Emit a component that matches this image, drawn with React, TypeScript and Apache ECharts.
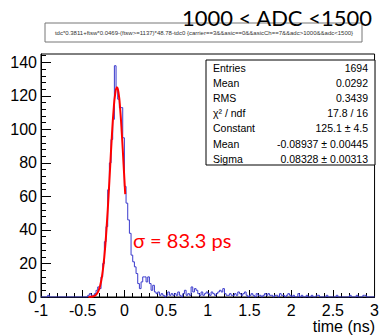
import React, { useEffect, useRef } from "react";
import * as echarts from "echarts";

// Histogram: 200 bins of width 0.02 from -1 to 3 (time in ns)
const binLow = -1;
const binWidth = 0.02;
const counts = [
  0, 0, 0, 0, 1, 0, 0, 0, 0, 0, 0, 0, 0, 0, 0, 0, 0, 0, 0, 0,
  0, 0, 0, 0, 0, 0, 0, 0, 1, 2, 1, 1, 2, 4, 6, 5, 12, 20, 33, 42,
  64, 80, 94, 106, 138, 125, 118, 113, 113, 95, 66, 56, 46, 38, 25, 21, 18, 14, 8, 5,
  9, 12, 12, 9, 12, 8, 4, 7, 3, 2, 3, 1, 2, 1, 0, 1, 3, 1, 2, 1,
  2, 1, 3, 1, 0, 2, 4, 1, 2, 1, 6, 3, 5, 4, 2, 1, 3, 1, 2, 3,
  2, 1, 3, 2, 1, 2, 3, 4, 3, 5, 2, 1, 1, 2, 1, 1, 2, 1, 3, 2,
  1, 2, 3, 1, 0, 1, 2, 1, 0, 2, 1, 1, 0, 1, 2, 1, 2, 1, 1, 0,
  1, 1, 0, 2, 1, 1, 0, 1, 2, 1, 0, 1, 0, 0, 2, 0, 1, 0, 0, 1,
  0, 0, 1, 0, 0, 1, 1, 0, 0, 0, 0, 1, 0, 0, 0, 0, 0, 1, 0, 0,
  0, 0, 0, 0, 0, 1, 0, 0, 0, 1, 0, 0, 0, 1, 1, 0, 0, 0, 0, 0,
];

// Gaussian fit curve
const fitX = [-0.43, -0.41, -0.39, -0.37, -0.35, -0.33, -0.31, -0.29, -0.27, -0.25, -0.23, -0.21,
  -0.19, -0.17, -0.15, -0.13, -0.11, -0.09, -0.07, -0.05, -0.03, -0.01, 0.01];
const fitY = [0.03, 0.08, 0.19, 0.43, 0.94, 1.93, 3.75, 6.9, 11.9, 19.5, 30.1, 43.9,
  60.3, 78.3, 96.1, 111.1, 121.3, 125.1, 121.8, 111.9, 97.0, 79.4, 61.4];

const yMajorTicks = [0, 20, 40, 60, 80, 100, 120, 140];
const yMinorTicks = [0, 4, 8, 12, 16, 20, 24, 28, 32, 36, 40, 44, 48, 52, 56, 60, 64, 68, 72, 76,
  80, 84, 88, 92, 96, 100, 104, 108, 112, 116, 120, 124, 128, 132, 136, 140, 144];

const statsLabels = ["Entries", "Mean", "RMS", "χ² / ndf", "Constant", "Mean", "Sigma"];
const statsValues = ["1694", "0.0292", "0.3439", "17.8 / 16", "125.1 ± 4.5", "-0.08937 ± 0.00445", "0.08328 ± 0.00313"];

const titleText = "1000 < ADC <1500";
const formulaText = "tdc*0.3811+ftsw*0.0469-(ftsw>=1137)*48.78-tdc0 {carrier==3&&asic==0&&asicCh==7&&adc>1000&&adc<1500}";
const sigmaText = "σ = 83.3 ps";
const xTitle = "time (ns)";

const ROOTFONT = "'Liberation Sans', Arial, sans-serif";

export default function App() {
  const ref = useRef<HTMLDivElement>(null);
  useEffect(() => {
    if (!ref.current) return;
    const chart = echarts.init(ref.current, null, { renderer: "svg" });

    const histData: number[][] = [];
    counts.forEach((c, i) => {
      const lo = binLow + i * binWidth;
      histData.push([lo, c]);
      histData.push([lo + binWidth, c]);
    });
    const fitData = fitX.map((x, i) => [x, fitY[i]]);

    const statsGraphics: any[] = [
      {
        type: "rect",
        shape: { x: 206, y: 60, width: 169, height: 105 },
        style: { fill: "#fff", stroke: "#000", lineWidth: 1 },
        z: 10,
      },
    ];
    statsLabels.forEach((l, i) => {
      const y = 68 + i * 15.1;
      statsGraphics.push({
        type: "text",
        x: 213,
        y,
        style: { text: l, fontSize: 10.5, fontFamily: ROOTFONT, fill: "#000", textAlign: "left", textVerticalAlign: "middle" },
        z: 11,
      });
      statsGraphics.push({
        type: "text",
        x: 368,
        y,
        style: { text: statsValues[i], fontSize: 10.5, fontFamily: ROOTFONT, fill: "#000", textAlign: "right", textVerticalAlign: "middle" },
        z: 11,
      });
    });

    const option: any = {
      animation: false,
      grid: { left: 41, right: 5, top: 54, bottom: 38, show: true, borderColor: "#000", borderWidth: 1, backgroundColor: "transparent" },
      xAxis: {
        type: "value",
        min: -1,
        max: 3,
        interval: 0.5,
        axisLine: { show: true, onZero: false, lineStyle: { color: "#000", width: 1 } },
        axisTick: { show: true, inside: true, length: 7, lineStyle: { color: "#000" } },
        minorTick: { show: true, splitNumber: 5, length: 4, lineStyle: { color: "#000" } },
        splitLine: { show: false },
        axisLabel: { fontSize: 16, color: "#000", fontFamily: ROOTFONT, margin: 5 },
      },
      yAxis: [
        {
          type: "value",
          min: 0,
          max: 145,
          interval: 20,
          axisLine: { show: true, onZero: false, lineStyle: { color: "#000", width: 1 } },
          axisTick: { show: true, inside: true, length: 10, customValues: yMajorTicks, lineStyle: { color: "#000" } },
          splitLine: { show: false },
          axisLabel: { fontSize: 16, color: "#000", fontFamily: ROOTFONT, margin: 4, customValues: yMajorTicks },
        },
        {
          type: "value",
          position: "left",
          min: 0,
          max: 145,
          interval: 20,
          axisLine: { show: false, onZero: false },
          axisTick: { show: true, inside: true, length: 5, customValues: yMinorTicks, lineStyle: { color: "#000" } },
          splitLine: { show: false },
          axisLabel: { show: false },
        },
      ],
      series: [
        {
          type: "line",
          data: histData,
          symbol: "none",
          lineStyle: { color: "#3a3acc", width: 1 },
          z: 3,
        },
        {
          type: "line",
          data: fitData,
          symbol: "none",
          smooth: true,
          lineStyle: { color: "#ff0000", width: 2 },
          z: 4,
        },
      ],
      graphic: [
        {
          type: "rect",
          shape: { x: 45, y: 23, width: 317, height: 19 },
          style: { fill: "#fff", stroke: "#777", lineWidth: 1 },
          z: 5,
        },
        {
          type: "text",
          x: 204,
          y: 33,
          style: { text: formulaText, fontSize: 6, fontFamily: ROOTFONT, fill: "#333", textAlign: "center", textVerticalAlign: "middle" },
          z: 6,
        },
        {
          type: "text",
          x: 372,
          y: 17,
          style: { text: titleText, fontSize: 22, fontFamily: "Lato, 'Open Sans', sans-serif", fill: "#000", textAlign: "right", textVerticalAlign: "middle" },
          z: 7,
        },
        {
          type: "text",
          x: 133,
          y: 240,
          style: { text: sigmaText, fontSize: 20, fontFamily: "Lato, 'Open Sans', sans-serif", fill: "#ff0000", textAlign: "left", textVerticalAlign: "middle" },
          z: 12,
        },
        {
          type: "text",
          x: 375,
          y: 326,
          style: { text: xTitle, fontSize: 16, fontFamily: ROOTFONT, fill: "#000", textAlign: "right", textVerticalAlign: "middle" },
          z: 12,
        },
        ...statsGraphics,
      ],
    };
    chart.setOption(option);
    return () => chart.dispose();
  }, []);
  return <div ref={ref} style={{ position: "absolute", left: 0, top: 0, width: 382, height: 335, background: "#fff" }} />;
}
